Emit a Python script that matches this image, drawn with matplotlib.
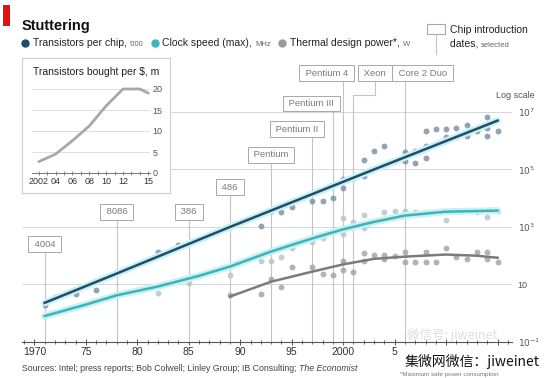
import matplotlib.pyplot as plt
from matplotlib import font_manager
from matplotlib.lines import Line2D
from matplotlib.patches import Rectangle
from matplotlib.ticker import MultipleLocator, NullLocator

# --- data ---
trans_years = [1971, 1972, 1974, 1976, 1978, 1982, 1984, 1985, 1989, 1992, 1993, 1994, 1995,
               1997, 1998, 1999, 2000, 2000, 2001, 2002, 2002, 2003, 2004, 2005, 2006, 2006,
               2007, 2007, 2008, 2008, 2008, 2009, 2010, 2010, 2011, 2011, 2012, 2012, 2013,
               2014, 2014, 2014, 2015]
trans_values = [1.9, 3.8, 4.5, 6.2, 28, 130, 230, 270, 1100, 1100, 3500, 3200, 5100,
                7800, 7800, 9800, 22000, 45000, 49000, 58000, 220000, 430000, 630000, 190000,
                390000, 190000, 170000, 430000, 630000, 2.1e6, 260000, 2.5e6, 2.5e6, 1.3e6,
                2.7e6, 1.3e6, 3.4e6, 1.4e6, 2.1e6, 6.5e6, 2.7e6, 1.4e6, 2.1e6]

clock_years = [1971, 1974, 1976, 1978, 1982, 1985, 1989, 1992, 1993, 1994, 1995, 1997, 1998,
               1999, 2000, 2000, 2001, 2002, 2002, 2004, 2005, 2006, 2007, 2008, 2010, 2010,
               2011, 2012, 2013, 2014, 2014, 2015]
clock_values = [0.78, 1.7, 2.6, 4.5, 5.2, 11, 22, 63, 63, 93, 180, 290, 430,
                650, 2000, 550, 1450, 2700, 950, 3200, 3700, 3500, 3200, 3200, 3500, 1800,
                3500, 3600, 3400, 3500, 2300, 3500]

tdp_years = [1989, 1992, 1993, 1994, 1995, 1997, 1998, 1999, 2000, 2000, 2001, 2002, 2002,
             2003, 2004, 2004, 2005, 2006, 2006, 2007, 2008, 2008, 2009, 2010, 2011, 2012,
             2013, 2014, 2014, 2015]
tdp_values = [4.2, 4.5, 15, 8.5, 39, 39, 24, 22, 63, 33, 28, 120, 63,
              110, 110, 80, 100, 130, 59, 59, 130, 59, 59, 180, 93, 74,
              130, 130, 80, 59]

trans_trend_years = [1971, 1978, 1989, 2003, 2015]
trans_trend = [2.3, 24, 1000, 1.0e5, 5.0e6]
clock_trend_years = [1971, 1975, 1978, 1982, 1986, 1989, 1993, 1997, 2000, 2003, 2006, 2010, 2015]
clock_trend = [0.8, 2.0, 4.2, 8.5, 20, 42, 140, 400, 830, 1500, 2500, 3400, 3700]
tdp_trend_years = [1989, 1993, 1997, 2000, 2003, 2006, 2010, 2013, 2015]
tdp_trend = [3.8, 12.5, 28, 50, 78, 93, 110, 100, 85]

chips = ['4004', '8086', '386', '486', 'Pentium', 'Pentium II', 'Pentium III',
         'Pentium 4', 'Xeon', 'Core 2 Duo']
chip_years = [1971, 1978, 1985, 1989, 1993, 1997, 1999, 2000, 2001, 2006]

x_ticks = [1970, 1975, 1980, 1985, 1990, 1995, 2000, 2005, 2010, 2015]
x_labels = ['1970', '75', '80', '85', '90', '95', '2000', '5', '', '']
y_ticks = [0.1, 10, 1e3, 1e5, 1e7]
y_labels = ['$10^{-1}$', '10', '$10^{3}$', '$10^{5}$', '$10^{7}$']

inset_years = [2002, 2004, 2006, 2008, 2010, 2012, 2013, 2014, 2015]
inset_values = [2.7, 4.5, 7.7, 11.2, 16, 20, 20, 20, 19]
inset_ticks = [2002, 2004, 2006, 2008, 2010, 2012, 2015]
inset_labels = ['2002', '04', '06', '08', '10', '12', '15']

# --- layout ---
W, H = 550, 378
# chip box: shift of the box from its line (years), box centre (axes fraction)
chip_shift = [0, 0, 0, 0, 0, -1.5, -2.1, -1.6, 2.1, 1.7]
chip_level = [0.341, 0.453, 0.453, 0.54, 0.652, 0.742, 0.831, 0.937, 0.937, 0.937]

available = {f.name for f in font_manager.fontManager.ttflist}
FONT = 'Liberation Sans Narrow' if 'Liberation Sans Narrow' in available else 'Liberation Sans'
plt.rcParams['font.family'] = [FONT, 'DejaVu Sans']
CJK = ['Noto Sans CJK SC', 'DejaVu Sans']

NAVY = '#1f4e6a'
TEAL = '#3db4b6'
GREY = '#7b7b7b'
HALO = '#c8f0f5'


def fx(px):
    return px / W


def fy(py):
    return 1 - py / H


def text_after(fig, prev, s, gap=0, **kw):
    bb = prev.get_window_extent(fig.canvas.get_renderer())
    x = (bb.x1 + gap) / fig.bbox.width
    return fig.text(x, prev.get_position()[1], s, va='baseline', **kw)


def draw_main(fig):
    ax = fig.add_axes([fx(22), fy(342), fx(490), 287 / H])
    ax.set_yscale('log')
    ax.set_xlim(1968.8, 2016.4)
    ax.set_ylim(0.1, 10 ** 8.98)
    ax.set_axisbelow(True)
    for side in ['top', 'left', 'right']:
        ax.spines[side].set_visible(False)
    ax.spines['bottom'].set_color('#555555')
    ax.spines['bottom'].set_linewidth(0.8)

    ax.set_xticks(x_ticks, x_labels)
    ax.xaxis.set_minor_locator(MultipleLocator(1))
    ax.tick_params(axis='x', which='major', direction='inout', length=4.5, width=0.7,
                   color='#555555', labelsize=7.5, labelcolor='#333333', pad=1)
    ax.tick_params(axis='x', which='minor', direction='inout', length=3, width=0.6,
                   color='#555555')

    ax.yaxis.tick_right()
    ax.set_yticks(y_ticks, y_labels)
    ax.yaxis.set_minor_locator(NullLocator())
    ax.tick_params(axis='y', length=0, pad=4, labelsize=6.5, labelcolor='#555555')
    ax.grid(axis='y', color='#d6d6d6', lw=0.7)

    # chip introduction markers
    tr = ax.get_xaxis_transform()
    for name, year, shift, level in zip(chips, chip_years, chip_shift, chip_level):
        if name == 'Xeon':
            ax.plot([year, year, year + shift, year + shift], [0, 0.861, 0.861, level],
                    transform=tr, color='#c4c4c4', lw=0.8, zorder=1)
        else:
            ax.plot([year, year], [0, level], transform=tr, color='#c4c4c4', lw=0.8, zorder=1)
        ax.text(year + shift, level, ' ' + name + ' ', transform=tr, ha='center', va='center',
                fontsize=6.8, color='#7a7a7a', zorder=7,
                bbox=dict(boxstyle='square,pad=0.35', fc='white', ec='#a8a8a8', lw=0.7))

    ax.scatter(trans_years, trans_values, s=18, color='#7d94a8', alpha=0.85, lw=0, zorder=3)
    ax.scatter(clock_years, clock_values, s=18, color='#b4c8cb', alpha=0.85, lw=0, zorder=3)
    ax.scatter(tdp_years, tdp_values, s=18, color='#a6a6a6', alpha=0.85, lw=0, zorder=3)

    ax.plot(trans_trend_years, trans_trend, color=HALO, lw=5, solid_capstyle='round', zorder=4)
    ax.plot(clock_trend_years, clock_trend, color=HALO, lw=5, solid_capstyle='round', zorder=4)
    ax.plot(trans_trend_years, trans_trend, color=NAVY, lw=1.8, zorder=5)
    ax.plot(clock_trend_years, clock_trend, color=TEAL, lw=1.8, zorder=5)
    ax.plot(tdp_trend_years, tdp_trend, color=GREY, lw=1.8, zorder=5)

    fig.text(fx(535), fy(98), 'Log scale', ha='right', va='baseline', fontsize=6.5, color='#555555')
    return ax


def draw_inset(fig):
    frame = fig.add_axes([fx(22), fy(193), fx(148), 135 / H], zorder=5)
    frame.set_xticks([])
    frame.set_yticks([])
    for sp in frame.spines.values():
        sp.set_color('#cfcfcf')
        sp.set_linewidth(0.8)
    fig.text(fx(33), fy(75), 'Transistors bought per \\$, m', fontsize=7.5, color='#222222',
             va='baseline', zorder=7)

    ins = fig.add_axes([fx(32), fy(173), fx(118), (173 - 84.8) / H], zorder=6)
    ins.patch.set_alpha(0)
    ins.set_xlim(2001.2, 2015.2)
    ins.set_ylim(0, 21)
    ins.set_axisbelow(True)
    for side in ['top', 'left', 'right']:
        ins.spines[side].set_visible(False)
    ins.spines['bottom'].set_color('#777777')
    ins.spines['bottom'].set_linewidth(0.7)
    ins.set_xticks(inset_ticks, inset_labels)
    ins.xaxis.set_minor_locator(MultipleLocator(1))
    ins.tick_params(axis='x', which='both', direction='inout', length=3, width=0.6,
                    color='#777777', labelsize=6.5, labelcolor='#333333', pad=1.5)
    ins.yaxis.tick_right()
    ins.set_yticks([0, 5, 10, 15, 20])
    ins.tick_params(axis='y', length=0, pad=2, labelsize=6.5, labelcolor='#555555')
    ins.grid(axis='y', color='#dedede', lw=0.7)
    ins.plot(inset_years, inset_values, color='#a8a8a8', lw=2, solid_capstyle='round')


def draw_header(fig):
    fig.patches.append(Rectangle((fx(3), fy(26)), fx(7), 21 / H, transform=fig.transFigure,
                                 facecolor='#e3120b', edgecolor='none'))
    fig.text(fx(22), fy(30), 'Stuttering', fontsize=10.5, fontweight='bold', color='#111111',
             va='baseline')

    items = [('Transistors per chip, ', "'000", NAVY),
             ('Clock speed (max), ', 'MHz', TEAL),
             ('Thermal design power*, ', 'W', '#9a9a9a')]
    x = 25
    for label, unit, color in items:
        fig.add_artist(Line2D([fx(x)], [fy(43)], marker='o', ms=5, color=color, lw=0,
                              transform=fig.transFigure))
        t = fig.text(fx(x + 8), fy(46), label, fontsize=7.5, color='#222222', va='baseline')
        u = text_after(fig, t, unit, fontsize=5.5, color='#666666')
        bb = u.get_window_extent(fig.canvas.get_renderer())
        x = bb.x1 + 11

    fig.patches.append(Rectangle((fx(427), fy(34)), fx(18), 10 / H, transform=fig.transFigure,
                                 facecolor='white', edgecolor='#a8a8a8', lw=0.8))
    fig.add_artist(Line2D([fx(436), fx(436)], [fy(34), fy(54)], color='#c4c4c4', lw=0.8,
                          transform=fig.transFigure))
    fig.text(fx(450), fy(33), 'Chip introduction', fontsize=7.5, color='#222222', va='baseline')
    t = fig.text(fx(450), fy(47), 'dates, ', fontsize=7.5, color='#222222', va='baseline')
    text_after(fig, t, 'selected', fontsize=5.5, color='#666666')


def draw_footer(fig):
    t = fig.text(fx(22), fy(371),
                 'Sources: Intel; press reports; Bob Colwell; Linley Group; IB Consulting; ',
                 fontsize=6.3, color='#444444', va='baseline')
    text_after(fig, t, 'The Economist', fontsize=6.3, color='#444444', style='italic')
    fig.text(fx(400), fy(376), '*Maximum safe power consumption', fontsize=4.5, color='#777777',
             va='baseline')
    fig.text(fx(407), fy(339), '微信号: jiweinet', fontsize=9, color='#dedede', family=CJK,
             va='baseline', zorder=8)
    fig.text(fx(405), fy(366), '集微网微信：jiweinet', fontsize=10, color='#111111',
             family=CJK, va='baseline', zorder=9)


fig = plt.figure(figsize=(W / 100, H / 100), dpi=100)
fig.patch.set_facecolor('white')
draw_main(fig)
draw_inset(fig)
draw_header(fig)
draw_footer(fig)
fig.savefig('out.png', dpi=100)
plt.close(fig)
